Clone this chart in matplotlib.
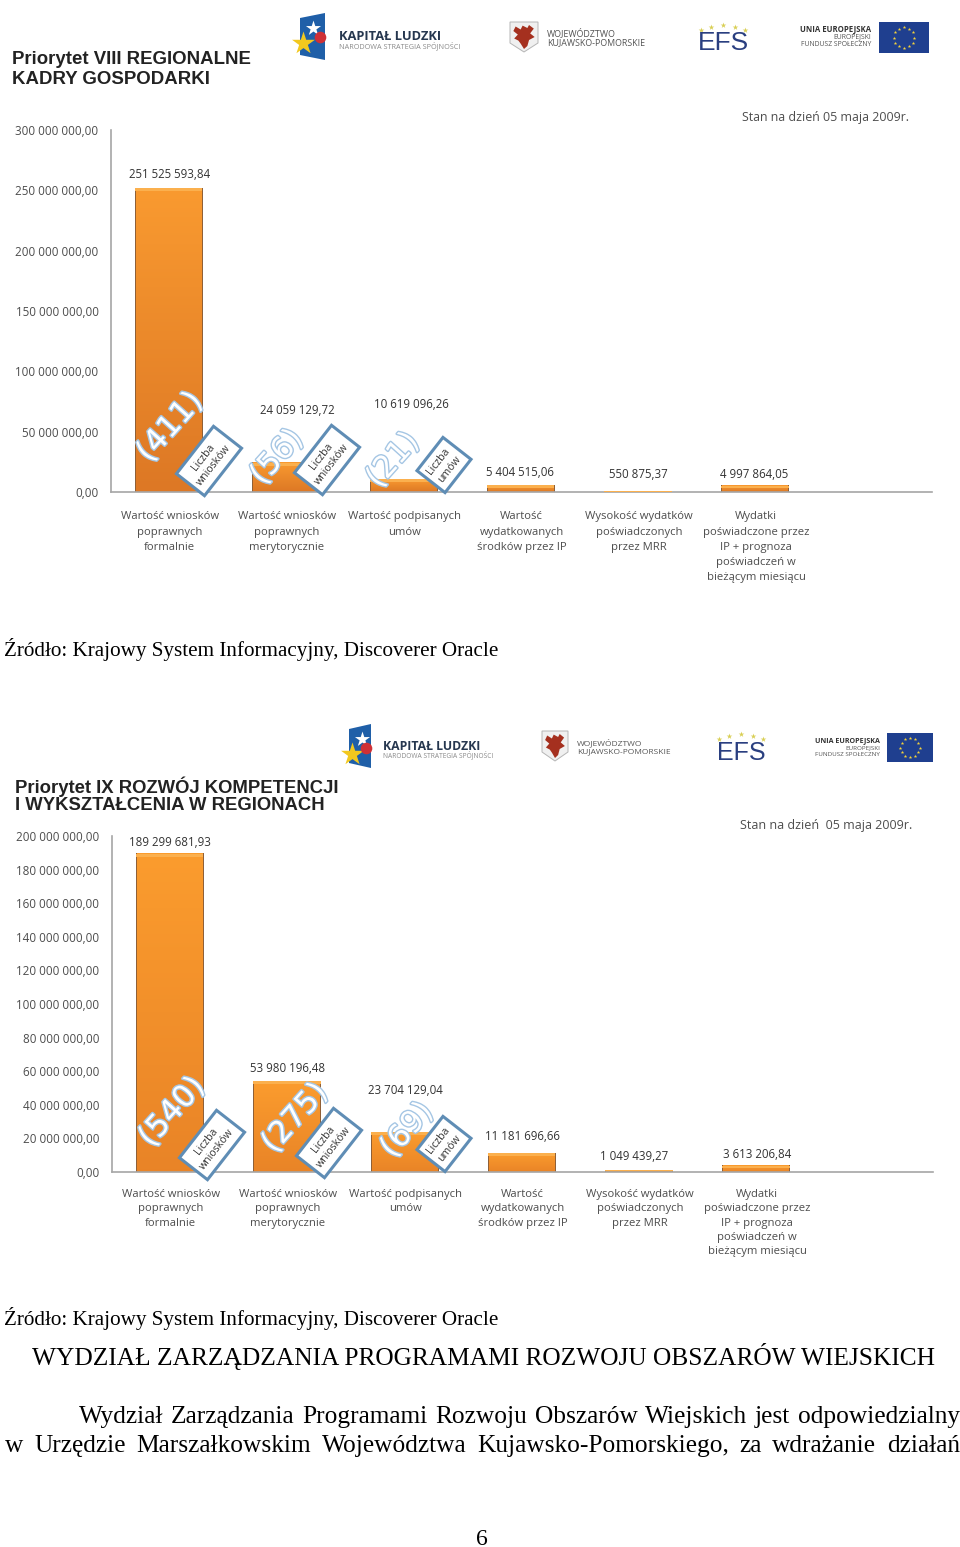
import numpy as np
import matplotlib as mpl
mpl.use('Agg')
import matplotlib.pyplot as plt
import matplotlib.patheffects as pe
from matplotlib.colors import to_rgb
from matplotlib.patches import Polygon, Rectangle
from matplotlib.ticker import FuncFormatter
from matplotlib.transforms import blended_transform_factory

W, H = 960, 1547

categories = [
    'Wartość wniosków\npoprawnych\nformalnie',
    'Wartość wniosków\npoprawnych\nmerytorycznie',
    'Wartość podpisanych\numów',
    'Wartość\nwydatkowanych\nśrodków przez IP',
    'Wysokość wydatków\npoświadczonych\nprzez MRR',
    'Wydatki\npoświadczone przez\nIP + prognoza\npoświadczeń w\nbieżącym miesiącu',
    '',
]

values_viii = [251525593.84, 24059129.72, 10619096.26, 5404515.06, 550875.37, 4997864.05]
values_ix = [189299681.93, 53980196.48, 23704129.04, 11181696.66, 1049439.27, 3613206.84]
yticks_viii = [0, 50000000, 100000000, 150000000, 200000000, 250000000, 300000000]
yticks_ix = [0, 20000000, 40000000, 60000000, 80000000, 100000000, 120000000,
             140000000, 160000000, 180000000, 200000000]
counts_viii = ['(411)', '(56)', '(21)']
counts_ix = ['(540)', '(275)', '(69)']
count_kinds = ['Liczba\nwniosków', 'Liczba\nwniosków', 'Liczba\numów']

SANS = 'Open Sans'
SERIF = 'Liberation Serif'
GREY = '#4d4d4d'


def pl_number(x, pos=None):
    return '{:,.2f}'.format(x).replace(',', ' ').replace('.', ',')


fig = plt.figure(figsize=(W / 100, H / 100), dpi=100, facecolor='white')
page = fig.add_axes([0, 0, 1, 1], zorder=5)
page.set_xlim(0, W)
page.set_ylim(H, 0)
page.axis('off')
page.patch.set_alpha(0)


def bar_image(top_col, bottom_col, edge):
    # vertical fade with a narrow dark edge left and right
    fade = np.linspace(0, 1, 64)[:, None]
    img = (1 - fade)[:, None] * np.array(to_rgb(top_col)) + fade[:, None] * np.array(to_rgb(bottom_col))
    img = np.repeat(img, 68, axis=1)
    img[:, [0, -1]] = to_rgb(edge)
    return img


def draw_chart(box, values, yticks, counts, value_y, value_dx, count_xy, tag_xy, cols, cat_pad, cat_space):
    left, right, top, bottom = box
    ax = fig.add_axes([left / W, 1 - bottom / H, (right - left) / W, (bottom - top) / H])
    img = bar_image(*cols)
    ymax = yticks[-1]
    strip = ymax / (bottom - top) * 3
    for i, v in enumerate(values):
        ax.imshow(img, extent=[i - 0.295, i + 0.28, 0, v], aspect='auto', zorder=2)
        s = min(strip, v * 0.35)
        ax.bar(i - 0.0075, s, 0.575, bottom=v - s, color='#fbb04e', linewidth=0, zorder=3)
    ax.set_xlim(-0.5, 6.5)
    ax.set_ylim(0, ymax)
    ax.set_xticks(range(7))
    ax.set_xticklabels(categories, fontname=SANS, fontsize=8.15, color=GREY, linespacing=cat_space)
    ax.set_yticks(yticks)
    ax.yaxis.set_major_formatter(FuncFormatter(pl_number))
    ax.tick_params(axis='x', length=0, pad=cat_pad)
    ax.tick_params(axis='y', length=0, pad=9, labelsize=8.4, labelcolor=GREY)
    for t in ax.get_yticklabels():
        t.set_fontname(SANS)
    for name in ['top', 'right']:
        ax.spines[name].set_visible(False)
    for name in ['left', 'bottom']:
        ax.spines[name].set_color('#a6a6a6')
        ax.spines[name].set_linewidth(1.2)
    ax.patch.set_alpha(0)

    trans = blended_transform_factory(ax.transData, page.transData)
    for i, v in enumerate(values):
        page.text(i + value_dx[i] / 117.3, value_y[i], pl_number(v), transform=trans, ha='center', va='center',
                  fontname=SANS, fontsize=8.3, color='#333333')
    for i, label in enumerate(counts):
        x, y = count_xy[i]
        page.text(x, y, label, rotation=48, ha='center', va='center', fontname='DejaVu Sans', fontsize=22,
                  color='white', rotation_mode='anchor',
                  path_effects=[pe.withStroke(linewidth=2, foreground='#a5c6e4')])
        x, y = tag_xy[i]
        page.text(x, y, count_kinds[i], rotation=52, ha='center', va='center', rotation_mode='anchor',
                  fontname=SANS, fontsize=7.6, color='#333333', linespacing=1.25, multialignment='center',
                  bbox=dict(boxstyle='square,pad=0.55', fc='white', ec='#5f8db5', lw=2.2))
    return ax


def draw_logos(kl, coat, efs, eu):
    # kapital ludzki
    x0, x1, y0, y1, tx, ty, ty2, tsize, ssize = kl
    page.add_patch(Polygon([(x0, y0 + 5), (x1, y0), (x1, y1), (x0, y1 - 5)], fc='#1f5fa8', ec='none'))
    page.scatter([x0 + 3], [y0 + 30], marker='*', s=300, c='#f2c81e', linewidths=0, zorder=4)
    page.scatter([x0 + 13], [y0 + 15], marker='*', s=130, c='white', linewidths=0, zorder=4)
    page.scatter([x1 - 5], [y0 + 24], marker='o', s=70, c='#cf3036', linewidths=0, zorder=4)
    page.text(tx, ty, 'KAPITAŁ LUDZKI', fontname=SANS, fontsize=tsize, fontweight='bold', color='#26374f', va='center')
    page.text(tx, ty2, 'NARODOWA STRATEGIA SPÓJNOŚCI', fontname=SANS, fontsize=ssize, color='#8a8a8a', va='center')
    # herb
    x0, x1, y0, y1, tx, ty, ty2, tsize = coat
    w, h = x1 - x0, y1 - y0
    page.add_patch(Polygon([(x0, y0), (x1, y0), (x1, y0 + 0.7 * h), (x0 + w / 2, y1), (x0, y0 + 0.7 * h)],
                           fc='#f0f0f0', ec='#b5b5b5', lw=0.7))
    griffin_x = [0.2, 0.38, 0.45, 0.62, 0.68, 0.85, 0.72, 0.88, 0.68, 0.62, 0.5, 0.38, 0.3, 0.15, 0.28, 0.12]
    griffin_y = [0.15, 0.25, 0.12, 0.2, 0.1, 0.22, 0.38, 0.5, 0.6, 0.8, 0.9, 0.72, 0.62, 0.55, 0.42, 0.3]
    page.add_patch(Polygon([(x0 + a * w, y0 + b * h) for a, b in zip(griffin_x, griffin_y)],
                           fc='#a5301f', ec='none'))
    page.text(tx, ty, 'WOJEWÓDZTWO', fontname=SANS, fontsize=tsize, color='#555555', va='center')
    page.text(tx, ty2, 'KUJAWSKO-POMORSKIE', fontname=SANS, fontsize=tsize, color='#555555', va='center')
    # efs
    cx, cy, ysize, star_y = efs
    page.text(cx, cy, 'EFS', fontname='Liberation Sans', fontsize=ysize, color='#2a3f80', ha='center', va='center')
    page.scatter(cx + np.array([-22, -12, 0, 12, 22]), star_y + np.array([5, 2, 0, 2, 5]),
                 marker='*', s=18, c='#d9cf55', linewidths=0)
    # ue
    x0, x1, y0, y1, tr, ty1, ty2, ty3, usize = eu
    page.add_patch(Rectangle((x0, y0), x1 - x0, y1 - y0, fc='#1f3f8f', ec='none'))
    angles = np.arange(12) * np.pi / 6
    r = (y1 - y0) * 0.33
    page.scatter((x0 + x1) / 2 + r * np.cos(angles), (y0 + y1) / 2 + r * np.sin(angles),
                 marker='*', s=7, c='#f5d33a', linewidths=0)
    page.text(tr, ty1, 'UNIA EUROPEJSKA', fontname=SANS, fontsize=usize, fontweight='bold', color='#333333', ha='right', va='center')
    page.text(tr, ty2, 'EUROPEJSKI', fontname=SANS, fontsize=usize * 0.89, color='#555555', ha='right', va='center')
    page.text(tr, ty3, 'FUNDUSZ SPOŁECZNY', fontname=SANS, fontsize=usize * 0.89, color='#555555', ha='right', va='center')


draw_chart((111, 932, 130, 492), values_viii, yticks_viii, counts_viii,
           [175, 410, 404, 473, 475, 474], [0, 10, 7, -2, 0, -2],
           [(170, 427), (277, 457), (393, 460)], [(209, 461), (327, 460), (444, 465)],
           ('#f99a30', '#dd7825', '#8f6038'), 14, 1.52)
draw_chart((112, 933, 836, 1172), values_ix, yticks_ix, counts_ix,
           [842, 1069, 1090, 1136, 1157, 1154], [-1, 0, 0, 0, -6, 0],
           [(172, 1112), (295, 1118), (407, 1130)], [(212, 1145), (329, 1143), (444, 1144)],
           ('#fb9c2e', '#e98427', '#8f6038'), 12, 1.43)

draw_logos((300, 325, 13, 60, 339, 36, 46, 9.3, 5.2), (510, 538, 22, 52, 547, 33, 43, 6.4),
           (723, 43, 19, 25), (879, 929, 22, 53, 871, 30, 37, 45, 5.6))
draw_logos((349, 371, 724, 768, 383, 746, 755, 8.8, 4.8), (542, 568, 731, 761, 577, 743, 752, 6.0),
           (741, 753, 18, 734), (887, 933, 733, 762, 880, 741, 748, 755, 5.1))

page.text(12, 60, 'Priorytet VIII REGIONALNE', fontname='Liberation Sans', fontsize=13.4, fontweight='bold', color='#222222', va='center')
page.text(12, 80, 'KADRY GOSPODARKI', fontname='Liberation Sans', fontsize=13.4, fontweight='bold', color='#222222', va='center')
page.text(15, 787, 'Priorytet IX ROZWÓJ KOMPETENCJI', fontname='Liberation Sans', fontsize=13.3, fontweight='bold', color='#222222', va='center')
page.text(15, 806, 'I WYKSZTAŁCENIA W REGIONACH', fontname='Liberation Sans', fontsize=13.3, fontweight='bold', color='#222222', va='center')
page.text(742, 117, 'Stan na dzień 05 maja 2009r.', fontname=SANS, fontsize=8.9, color=GREY, va='center')
page.text(740, 825, 'Stan na dzień  05 maja 2009r.', fontname=SANS, fontsize=9, color=GREY, va='center')

source = 'Źródło: Krajowy System Informacyjny, Discoverer Oracle'
page.text(4, 656, source, fontname=SERIF, fontsize=15.2, color='black', va='baseline')
page.text(4, 1325, source, fontname=SERIF, fontsize=15.2, color='black', va='baseline')
page.text(32, 1365, 'WYDZIAŁ ZARZĄDZANIA PROGRAMAMI ROZWOJU OBSZARÓW WIEJSKICH',
          fontname=SERIF, fontsize=18.25, color='black', va='baseline')
page.text(482, 1545, '6', fontname=SERIF, fontsize=17, color='black', ha='center', va='baseline')


def justified(line, x0, x1, y, size):
    # spreads the words of one line between x0 and x1
    renderer = fig.canvas.get_renderer()
    words = [page.text(0, y, w, fontname=SERIF, fontsize=size, color='black', va='baseline') for w in line.split()]
    widths = [t.get_window_extent(renderer).width for t in words]
    gap = (x1 - x0 - sum(widths)) / (len(words) - 1)
    x = x0
    for t, w in zip(words, widths):
        t.set_x(x)
        x += w + gap


justified('Wydział Zarządzania Programami Rozwoju Obszarów Wiejskich jest odpowiedzialny', 79, 960, 1423, 18.25)
justified('w Urzędzie Marszałkowskim Województwa Kujawsko-Pomorskiego, za wdrażanie działań', 5, 960, 1452, 18.25)

fig.savefig('out.png', dpi=100)
